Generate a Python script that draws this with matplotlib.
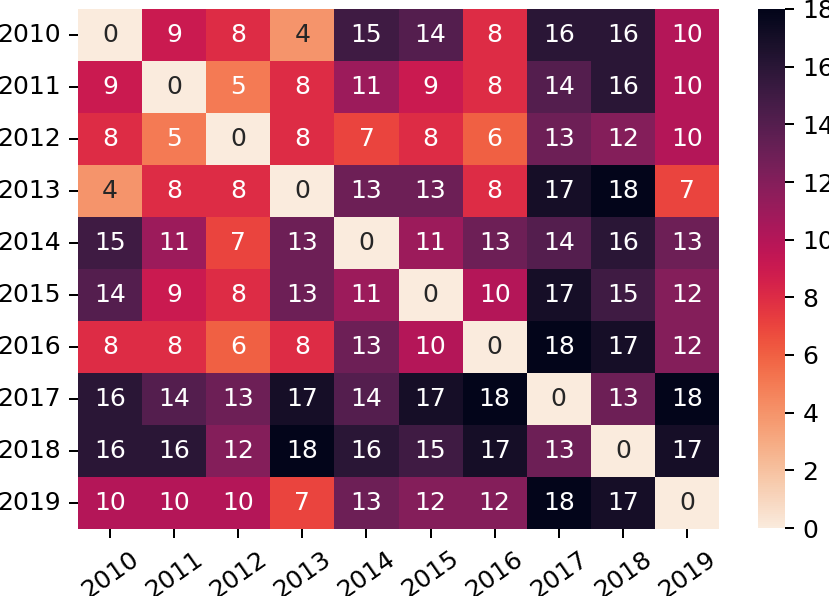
import numpy as np
import matplotlib
matplotlib.use("Agg")
import matplotlib.pyplot as plt
import seaborn as sns

years = [str(y) for y in range(2010, 2020)]
r2010 = [0, 9, 8, 4, 15, 14, 8, 16, 16, 10]
r2011 = [9, 0, 5, 8, 11, 9, 8, 14, 16, 10]
r2012 = [8, 5, 0, 8, 7, 8, 6, 13, 12, 10]
r2013 = [4, 8, 8, 0, 13, 13, 8, 17, 18, 7]
r2014 = [15, 11, 7, 13, 0, 11, 13, 14, 16, 13]
r2015 = [14, 9, 8, 13, 11, 0, 10, 17, 15, 12]
r2016 = [8, 8, 6, 8, 13, 10, 0, 18, 17, 12]
r2017 = [16, 14, 13, 17, 14, 17, 18, 0, 13, 18]
r2018 = [16, 16, 12, 18, 16, 15, 17, 13, 0, 17]
r2019 = [10, 10, 10, 7, 13, 12, 12, 18, 17, 0]

data = np.array([r2010, r2011, r2012, r2013, r2014,
                 r2015, r2016, r2017, r2018, r2019])

W, H = 830, 596
dpi = 180
fig = plt.figure(figsize=(W / dpi, H / dpi), dpi=dpi)
ax = fig.add_axes([78/W, 1 - 529/H, (719-78)/W, (529-9)/H])
cax = fig.add_axes([758/W, 1 - 528/H, 27/W, (528-9)/H])

sns.heatmap(data, annot=True, fmt='d', cmap='rocket_r', ax=ax, cbar_ax=cax,
            xticklabels=years, yticklabels=years)
ax.set_xticklabels(years, rotation=35)
ax.set_yticklabels(years, rotation=0)

fig.savefig('out.png', dpi=dpi)
